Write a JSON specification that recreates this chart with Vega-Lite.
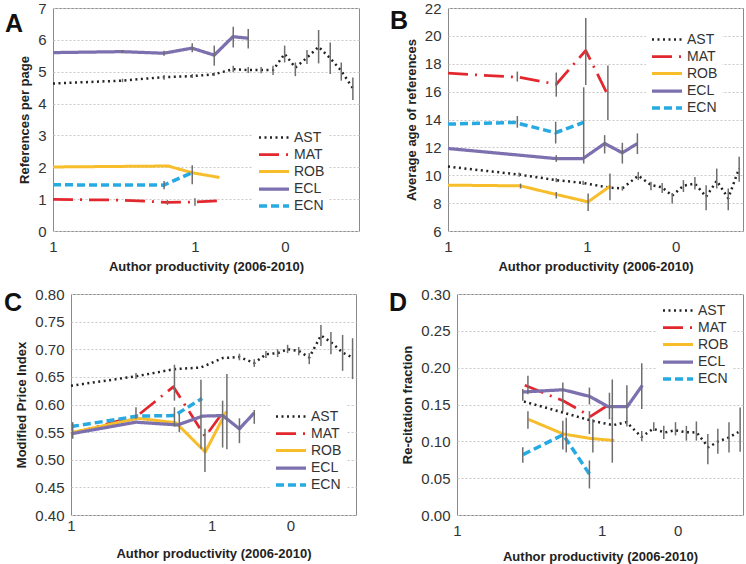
{
"$schema": "https://vega.github.io/schema/vega-lite/v6.json",
"padding": {"left": 3, "top": 0, "right": 0, "bottom": 0},
"background": "white",
"config": {
  "font": "Liberation Sans",
  "view": {"stroke": "#8a8a8a", "strokeWidth": 1},
  "axis": {"labelFont": "Liberation Sans", "titleFont": "Liberation Sans", "labelFlush": false, "labelOverlap": false, "labelBound": false, "ticks": false, "tickSize": 0, "domain": false, "labelFontSize": 15, "labelColor": "#333", "titleFontSize": 13, "titleFontWeight": "bold", "titleColor": "#222"},
  "axisX": {"grid": false, "labelPadding": 8, "titlePadding": 6},
  "axisY": {"grid": true, "gridColor": "#c8c8c8", "gridDash": [2, 2], "gridWidth": 1, "labelPadding": 7, "titlePadding": 6},
  "legend": {"symbolType": "M-1,0H2.75", "symbolSize": 256, "symbolStrokeWidth": 3, "labelFontSize": 14, "labelFont": "Liberation Sans", "labelColor": "#333", "labelOffset": 17, "rowPadding": -1, "fillColor": "white", "padding": 4, "title": null},
  "title": {"font": "Liberation Sans", "fontSize": 25, "fontWeight": "bold", "color": "#111", "anchor": "start", "frame": "group", "baseline": "top"}
},
"resolve": {"scale": {"color": "independent", "strokeDash": "independent", "strokeWidth": "independent"}, "legend": {"color": "independent", "strokeDash": "independent"}},
"spacing": 12,
"vconcat": [
{
"concat": [
{
 "width": 1, "height": 1,
 "view": {"stroke": null},
 "data": {"values": [{"k": 0}]},
 "mark": {"type": "point", "opacity": 0, "size": 1},
 "encoding": {}
},
{
"spacing": 29,
"resolve": {"scale": {"color": "independent", "strokeDash": "independent", "strokeWidth": "independent"}, "legend": {"color": "independent", "strokeDash": "independent"}},
"hconcat": [
{
 "width": 306, "height": 223,
 "title": {"text": "A", "dx": -48, "offset": -36},
 "encoding": {
  "x": {"field": "x", "type": "quantitative", "scale": {"domain": [0, 100], "nice": false, "zero": false}, "axis": {"values": [0, 46.4, 75.8], "labelExpr": "datum.value > 60 ? '0' : '1'", "title": "Author productivity (2006-2010)"}},
  "y": {"field": "y", "type": "quantitative", "scale": {"domain": [0, 7], "nice": false, "zero": false}, "axis": {"values": [0,1,2,3,4,5,6,7], "format": "d", "title": "References per page"}}
 },
 "layer": [
  {
   "data": {"values": [
    {"series":"AST","x":0,"y":4.63},{"series":"AST","x":22.5,"y":4.72},{"series":"AST","x":36.2,"y":4.83},{"series":"AST","x":45.4,"y":4.86},{"series":"AST","x":52.7,"y":4.92},{"series":"AST","x":58.8,"y":5.08},{"series":"AST","x":63.9,"y":5.05},{"series":"AST","x":68.0,"y":5.05},{"series":"AST","x":71.9,"y":5.05},{"series":"AST","x":75.7,"y":5.56},{"series":"AST","x":79.2,"y":5.13},{"series":"AST","x":83.0,"y":5.44},{"series":"AST","x":86.8,"y":5.78},{"series":"AST","x":90.6,"y":5.42},{"series":"AST","x":94.2,"y":5.03},{"series":"AST","x":98.0,"y":4.48},
    {"series":"MAT","x":0,"y":0.99},{"series":"MAT","x":22.5,"y":0.97},{"series":"MAT","x":37.4,"y":0.9},{"series":"MAT","x":46.4,"y":0.91},{"series":"MAT","x":54.4,"y":0.95},
    {"series":"ROB","x":0,"y":2.01},{"series":"ROB","x":37.6,"y":2.04},{"series":"ROB","x":45.4,"y":1.83},{"series":"ROB","x":54.4,"y":1.68},
    {"series":"ECL","x":0,"y":5.6},{"series":"ECL","x":22.5,"y":5.63},{"series":"ECL","x":36.2,"y":5.58},{"series":"ECL","x":45.4,"y":5.74},{"series":"ECL","x":52.7,"y":5.52},{"series":"ECL","x":58.8,"y":6.1},{"series":"ECL","x":63.9,"y":6.05},
    {"series":"ECN","x":0,"y":1.45},{"series":"ECN","x":36.2,"y":1.44},{"series":"ECN","x":45.4,"y":1.83}
   ]},
   "mark": {"type": "line", "strokeJoin": "round"},
   "encoding": {
    "color": {"field": "series", "type": "nominal", "scale": {"domain": ["AST","MAT","ROB","ECL","ECN"], "range": ["#222222","#e2282e","#f7bd2b","#7d70ae","#26aae1"]}, "legend": {"orient": "none", "legendX": 200, "legendY": 116}},
    "strokeDash": {"field": "series", "type": "nominal", "scale": {"domain": ["AST","MAT","ROB","ECL","ECN"], "range": [[2,3.5],[20,7,2,7],[1,0],[1,0],[8,4]]}, "legend": {"orient": "none", "legendX": 200, "legendY": 116}},
    "strokeWidth": {"field": "series", "type": "nominal", "scale": {"domain": ["AST","MAT","ROB","ECL","ECN"], "range": [2.5,3.5,3,4,3]}, "legend": null}
   }
  },
  {
   "data": {"values": [
    {"x":22.7,"y":4.67,"hi":4.78},{"x":22.7,"y":5.58,"hi":5.68},{"x":36.3,"y":4.75,"hi":4.9},{"x":36.3,"y":5.5,"hi":5.66},{"x":36.3,"y":1.31,"hi":1.57},{"x":37.4,"y":0.82,"hi":0.97},
    {"x":45.5,"y":5.61,"hi":5.89},{"x":45.5,"y":1.47,"hi":2.06},{"x":46.4,"y":0.79,"hi":1.03},{"x":45.5,"y":4.8,"hi":4.93},
    {"x":52.7,"y":5.19,"hi":5.82},{"x":52.7,"y":4.87,"hi":4.97},{"x":58.9,"y":5.76,"hi":6.41},{"x":58.9,"y":4.98,"hi":5.19},
    {"x":63.8,"y":5.73,"hi":6.34},{"x":63.8,"y":4.96,"hi":5.15},{"x":68.0,"y":4.95,"hi":5.15},{"x":71.9,"y":4.9,"hi":5.19},
    {"x":75.7,"y":5.29,"hi":5.82},{"x":79.2,"y":4.86,"hi":5.29},{"x":83.0,"y":5.24,"hi":5.68},{"x":86.8,"y":5.26,"hi":6.31},
    {"x":90.6,"y":4.93,"hi":5.92},{"x":94.2,"y":4.72,"hi":5.29},{"x":98.0,"y":4.11,"hi":4.82}
   ]},
   "mark": {"type": "rule", "color": "#6e6e6e", "strokeWidth": 1.5},
   "encoding": {"y2": {"field": "hi"}}
  }
 ]
},
{
 "width": 295, "height": 223,
 "title": {"text": "B", "dx": -58, "offset": -33},
 "encoding": {
  "x": {"field": "x", "type": "quantitative", "scale": {"domain": [0, 100], "nice": false, "zero": false}, "axis": {"values": [0, 47.1, 77.2], "labelExpr": "datum.value > 60 ? '0' : '1'", "title": "Author productivity (2006-2010)"}},
  "y": {"field": "y", "type": "quantitative", "scale": {"domain": [6, 22], "nice": false, "zero": false}, "axis": {"values": [6,8,10,12,14,16,18,20,22], "format": "d", "title": "Average age of references"}}
 },
 "layer": [
  {
   "data": {"values": [
    {"series":"AST","x":0,"y":10.62},{"series":"AST","x":24.1,"y":10.05},{"series":"AST","x":36.7,"y":9.65},{"series":"AST","x":45.8,"y":9.45},{"series":"AST","x":54.9,"y":9.1},{"series":"AST","x":59.1,"y":9.06},{"series":"AST","x":64.5,"y":9.97},{"series":"AST","x":68.8,"y":9.3},{"series":"AST","x":72.6,"y":9.13},{"series":"AST","x":76.0,"y":8.53},{"series":"AST","x":79.8,"y":9.25},{"series":"AST","x":83.7,"y":9.4},{"series":"AST","x":87.5,"y":8.46},{"series":"AST","x":91.1,"y":9.6},{"series":"AST","x":95.0,"y":8.35},{"series":"AST","x":98.7,"y":10.5},
    {"series":"MAT","x":0,"y":17.32},{"series":"MAT","x":24.1,"y":17.03},{"series":"MAT","x":36.7,"y":16.53},{"series":"MAT","x":46.7,"y":18.95},{"series":"MAT","x":54.0,"y":15.83},
    {"series":"ROB","x":0,"y":9.29},{"series":"ROB","x":24.6,"y":9.24},{"series":"ROB","x":36.7,"y":8.62},{"series":"ROB","x":47.5,"y":8.09},{"series":"ROB","x":55.1,"y":9.24},
    {"series":"ECL","x":0,"y":11.92},{"series":"ECL","x":36.4,"y":11.2},{"series":"ECL","x":45.8,"y":11.2},{"series":"ECL","x":53.1,"y":12.28},{"series":"ECL","x":59.1,"y":11.61},{"series":"ECL","x":64.2,"y":12.28},
    {"series":"ECN","x":0,"y":13.67},{"series":"ECN","x":22.6,"y":13.79},{"series":"ECN","x":36.4,"y":13.05},{"series":"ECN","x":46.0,"y":13.79}
   ]},
   "mark": {"type": "line", "strokeJoin": "round"},
   "encoding": {
    "color": {"field": "series", "type": "nominal", "scale": {"domain": ["AST","MAT","ROB","ECL","ECN"], "range": ["#222222","#e2282e","#f7bd2b","#7d70ae","#26aae1"]}, "legend": {"orient": "none", "legendX": 198, "legendY": 18}},
    "strokeDash": {"field": "series", "type": "nominal", "scale": {"domain": ["AST","MAT","ROB","ECL","ECN"], "range": [[2,3.5],[20,7,2,7],[1,0],[1,0],[8,4]]}, "legend": {"orient": "none", "legendX": 198, "legendY": 18}},
    "strokeWidth": {"field": "series", "type": "nominal", "scale": {"domain": ["AST","MAT","ROB","ECL","ECN"], "range": [2.5,3.5,3,4,3]}, "legend": null}
   }
  },
  {
   "data": {"values": [
    {"x":23.5,"y":16.72,"hi":17.44},{"x":23.5,"y":13.41,"hi":14.25},{"x":24.6,"y":9.05,"hi":9.4},{"x":24.1,"y":9.9,"hi":10.2},
    {"x":36.7,"y":15.64,"hi":17.37},{"x":36.5,"y":12.28,"hi":13.84},{"x":36.7,"y":10.96,"hi":11.44},{"x":36.7,"y":8.33,"hi":8.8},{"x":36.7,"y":9.5,"hi":9.8},
    {"x":46.7,"y":16.48,"hi":21.28},{"x":46.0,"y":10.84,"hi":16.31},{"x":47.5,"y":7.44,"hi":8.69},{"x":45.8,"y":9.3,"hi":9.6},
    {"x":53.1,"y":11.56,"hi":12.88},{"x":54.2,"y":13.96,"hi":17.87},{"x":54.9,"y":8.2,"hi":10.12},
    {"x":59.1,"y":10.84,"hi":12.33},{"x":59.1,"y":8.9,"hi":9.2},{"x":64.2,"y":11.52,"hi":13.0},{"x":64.5,"y":9.65,"hi":10.24},
    {"x":68.8,"y":8.93,"hi":9.53},{"x":72.6,"y":8.73,"hi":9.45},{"x":76.0,"y":7.97,"hi":8.73},{"x":79.8,"y":8.8,"hi":9.65},
    {"x":83.7,"y":8.97,"hi":9.88},{"x":87.5,"y":7.49,"hi":9.29},{"x":91.1,"y":9.05,"hi":10.48},{"x":95.0,"y":7.49,"hi":9.05},{"x":98.7,"y":9.53,"hi":11.32}
   ]},
   "mark": {"type": "rule", "color": "#6e6e6e", "strokeWidth": 1.5},
   "encoding": {"y2": {"field": "hi"}}
  }
 ]
}
]
}
],
"columns": 2,
"align": "none",
"spacing": -68,
"resolve": {"scale": {"color": "independent", "strokeDash": "independent", "strokeWidth": "independent"}, "legend": {"color": "independent", "strokeDash": "independent"}}
},
{
"spacing": 31,
"resolve": {"scale": {"color": "independent", "strokeDash": "independent", "strokeWidth": "independent"}, "legend": {"color": "independent", "strokeDash": "independent"}},
"hconcat": [
{
 "width": 285, "height": 221,
 "title": {"text": "C", "dx": -67, "offset": -29},
 "encoding": {
  "x": {"field": "x", "type": "quantitative", "scale": {"domain": [0, 100], "nice": false, "zero": false}, "axis": {"values": [0, 49.4, 77], "labelExpr": "datum.value > 60 ? '0' : '1'", "title": "Author productivity (2006-2010)", "labelPadding": 3, "titlePadding": 14}},
  "y": {"field": "y", "type": "quantitative", "scale": {"domain": [0.4, 0.8], "nice": false, "zero": false}, "axis": {"values": [0.4,0.45,0.5,0.55,0.6,0.65,0.7,0.75,0.8], "format": ".2f", "title": "Modified Price Index"}}
 },
 "layer": [
  {
   "data": {"values": [
    {"series":"AST","x":0,"y":0.634},{"series":"AST","x":22.8,"y":0.651},{"series":"AST","x":36.3,"y":0.664},{"series":"AST","x":45.6,"y":0.667},{"series":"AST","x":53.2,"y":0.684},{"series":"AST","x":59.1,"y":0.686},{"series":"AST","x":64.3,"y":0.675},{"series":"AST","x":68.4,"y":0.691},{"series":"AST","x":72.5,"y":0.693},{"series":"AST","x":76.0,"y":0.7},{"series":"AST","x":79.9,"y":0.697},{"series":"AST","x":83.6,"y":0.685},{"series":"AST","x":87.7,"y":0.725},{"series":"AST","x":91.2,"y":0.713},{"series":"AST","x":95.3,"y":0.694},{"series":"AST","x":98.8,"y":0.685},
    {"series":"MAT","x":0,"y":0.547},{"series":"MAT","x":23.4,"y":0.58},{"series":"MAT","x":35.9,"y":0.632},{"series":"MAT","x":47.1,"y":0.542},{"series":"MAT","x":53.2,"y":0.585},
    {"series":"ROB","x":0,"y":0.549},{"series":"ROB","x":23.4,"y":0.575},{"series":"ROB","x":36.8,"y":0.567},{"series":"ROB","x":47.1,"y":0.514},{"series":"ROB","x":54.6,"y":0.588},
    {"series":"ECL","x":0,"y":0.547},{"series":"ECL","x":22.8,"y":0.568},{"series":"ECL","x":37.4,"y":0.563},{"series":"ECL","x":46.2,"y":0.579},{"series":"ECL","x":53.2,"y":0.58},{"series":"ECL","x":59.1,"y":0.556},{"series":"ECL","x":64.3,"y":0.585},
    {"series":"ECN","x":0,"y":0.56},{"series":"ECN","x":23.4,"y":0.579},{"series":"ECN","x":36.3,"y":0.58},{"series":"ECN","x":46.0,"y":0.611}
   ]},
   "mark": {"type": "line", "strokeJoin": "round"},
   "encoding": {
    "color": {"field": "series", "type": "nominal", "scale": {"domain": ["AST","MAT","ROB","ECL","ECN"], "range": ["#222222","#e2282e","#f7bd2b","#7d70ae","#26aae1"]}, "legend": {"orient": "none", "legendX": 199, "legendY": 109}},
    "strokeDash": {"field": "series", "type": "nominal", "scale": {"domain": ["AST","MAT","ROB","ECL","ECN"], "range": [[2,3.5],[20,7,2,7],[1,0],[1,0],[8,4]]}, "legend": {"orient": "none", "legendX": 199, "legendY": 109}},
    "strokeWidth": {"field": "series", "type": "nominal", "scale": {"domain": ["AST","MAT","ROB","ECL","ECN"], "range": [2.5,3.5,3,4,3]}, "legend": null}
   }
  },
  {
   "data": {"values": [
    {"x":0.6,"y":0.538,"hi":0.568},{"x":22.8,"y":0.646,"hi":0.657},{"x":22.8,"y":0.574,"hi":0.595},{"x":36.3,"y":0.607,"hi":0.672},{"x":36.3,"y":0.56,"hi":0.595},{"x":38.0,"y":0.55,"hi":0.583},
    {"x":45.6,"y":0.52,"hi":0.645},{"x":47.0,"y":0.478,"hi":0.556},{"x":53.2,"y":0.522,"hi":0.607},{"x":54.7,"y":0.519,"hi":0.655},
    {"x":59.1,"y":0.53,"hi":0.575},{"x":59.1,"y":0.68,"hi":0.692},{"x":64.3,"y":0.565,"hi":0.59},{"x":64.3,"y":0.668,"hi":0.682},
    {"x":68.4,"y":0.684,"hi":0.697},{"x":72.5,"y":0.686,"hi":0.7},{"x":76.0,"y":0.693,"hi":0.708},{"x":79.9,"y":0.689,"hi":0.704},
    {"x":83.6,"y":0.673,"hi":0.693},{"x":87.7,"y":0.706,"hi":0.744},{"x":91.2,"y":0.691,"hi":0.731},{"x":95.3,"y":0.661,"hi":0.726},{"x":98.8,"y":0.646,"hi":0.72}
   ]},
   "mark": {"type": "rule", "color": "#6e6e6e", "strokeWidth": 1.5},
   "encoding": {"y2": {"field": "hi"}}
  }
 ]
},
{
 "width": 286, "height": 221,
 "title": {"text": "D", "dx": -68, "offset": -29},
 "encoding": {
  "x": {"field": "x", "type": "quantitative", "scale": {"domain": [0, 100], "nice": false, "zero": false}, "axis": {"values": [0, 50.6, 77.2], "labelExpr": "datum.value > 60 ? '0' : '1'", "title": "Author productivity (2006-2010)", "titlePadding": 12}},
  "y": {"field": "y", "type": "quantitative", "scale": {"domain": [0, 0.3], "nice": false, "zero": false}, "axis": {"values": [0,0.05,0.1,0.15,0.2,0.25,0.3], "format": ".2f", "title": "Re-citation fraction"}}
 },
 "layer": [
  {
   "data": {"values": [
    {"series":"AST","x":23.4,"y":0.154},{"series":"AST","x":37.1,"y":0.139},{"series":"AST","x":47.0,"y":0.128},{"series":"AST","x":54.6,"y":0.122},{"series":"AST","x":59.3,"y":0.126},{"series":"AST","x":64.5,"y":0.106},{"series":"AST","x":68.6,"y":0.117},{"series":"AST","x":72.7,"y":0.112},{"series":"AST","x":76.2,"y":0.115},{"series":"AST","x":80.0,"y":0.1125},{"series":"AST","x":83.8,"y":0.112},{"series":"AST","x":87.9,"y":0.092},{"series":"AST","x":91.4,"y":0.1},{"series":"AST","x":94.9,"y":0.105},{"series":"AST","x":98.4,"y":0.1125},
    {"series":"MAT","x":23.7,"y":0.176},{"series":"MAT","x":37.1,"y":0.155},{"series":"MAT","x":46.7,"y":0.134},{"series":"MAT","x":54.4,"y":0.153},
    {"series":"ROB","x":24.9,"y":0.13},{"series":"ROB","x":37.1,"y":0.11},{"series":"ROB","x":46.5,"y":0.104},{"series":"ROB","x":55.0,"y":0.101},
    {"series":"ECL","x":23.1,"y":0.167},{"series":"ECL","x":37.1,"y":0.17},{"series":"ECL","x":46.4,"y":0.161},{"series":"ECL","x":52.9,"y":0.147},{"series":"ECL","x":59.5,"y":0.147},{"series":"ECL","x":64.8,"y":0.176},
    {"series":"ECN","x":23.1,"y":0.082},{"series":"ECN","x":37.1,"y":0.109},{"series":"ECN","x":46.4,"y":0.055}
   ]},
   "mark": {"type": "line", "strokeJoin": "round"},
   "encoding": {
    "color": {"field": "series", "type": "nominal", "scale": {"domain": ["AST","MAT","ROB","ECL","ECN"], "range": ["#222222","#e2282e","#f7bd2b","#7d70ae","#26aae1"]}, "legend": {"orient": "none", "legendX": 200, "legendY": 3}},
    "strokeDash": {"field": "series", "type": "nominal", "scale": {"domain": ["AST","MAT","ROB","ECL","ECN"], "range": [[2,3.5],[20,7,2,7],[1,0],[1,0],[8,4]]}, "legend": {"orient": "none", "legendX": 200, "legendY": 3}},
    "strokeWidth": {"field": "series", "type": "nominal", "scale": {"domain": ["AST","MAT","ROB","ECL","ECN"], "range": [2.5,3.5,3,4,3]}, "legend": null}
   }
  },
  {
   "data": {"values": [
    {"x":23.0,"y":0.155,"hi":0.171},{"x":24.8,"y":0.164,"hi":0.189},{"x":24.8,"y":0.117,"hi":0.141},{"x":23.0,"y":0.071,"hi":0.092},
    {"x":37.0,"y":0.141,"hi":0.18},{"x":37.0,"y":0.089,"hi":0.128},{"x":38.2,"y":0.085,"hi":0.132},
    {"x":46.3,"y":0.15,"hi":0.173},{"x":46.3,"y":0.11,"hi":0.141},{"x":46.3,"y":0.036,"hi":0.074},{"x":47.5,"y":0.085,"hi":0.13},
    {"x":53.3,"y":0.13,"hi":0.166},{"x":54.3,"y":0.13,"hi":0.184},{"x":54.3,"y":0.071,"hi":0.132},
    {"x":59.4,"y":0.131,"hi":0.176},{"x":59.4,"y":0.12,"hi":0.132},{"x":64.6,"y":0.144,"hi":0.206},{"x":64.6,"y":0.1,"hi":0.114},
    {"x":68.8,"y":0.114,"hi":0.126},{"x":72.3,"y":0.103,"hi":0.121},{"x":76.4,"y":0.108,"hi":0.126},{"x":80.2,"y":0.101,"hi":0.121},
    {"x":83.7,"y":0.101,"hi":0.127},{"x":87.7,"y":0.069,"hi":0.11},{"x":91.2,"y":0.083,"hi":0.117},{"x":95.1,"y":0.085,"hi":0.126},{"x":99.0,"y":0.086,"hi":0.146}
   ]},
   "mark": {"type": "rule", "color": "#6e6e6e", "strokeWidth": 1.5},
   "encoding": {"y2": {"field": "hi"}}
  }
 ]
}
]
}
]
}
